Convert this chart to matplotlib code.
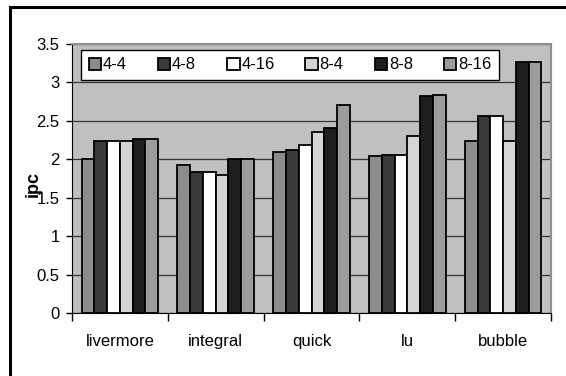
import matplotlib.pyplot as plt
import matplotlib.patches as mpatches
import numpy as np

plt.rcParams['font.family'] = ['Liberation Sans', 'DejaVu Sans']

# Data
categories = ['livermore', 'integral', 'quick', 'lu', 'bubble']
series_names = ['4-4', '4-8', '4-16', '8-4', '8-8', '8-16']
ipc_4_4 = [2.00, 1.93, 2.09, 2.04, 2.24]
ipc_4_8 = [2.24, 1.83, 2.12, 2.06, 2.56]
ipc_4_16 = [2.24, 1.83, 2.19, 2.06, 2.56]
ipc_8_4 = [2.24, 1.80, 2.35, 2.30, 2.24]
ipc_8_8 = [2.27, 2.00, 2.41, 2.82, 3.27]
ipc_8_16 = [2.27, 2.00, 2.71, 2.84, 3.27]
series = [ipc_4_4, ipc_4_8, ipc_4_16, ipc_8_4, ipc_8_8, ipc_8_16]
colors = ['#8c8c8c', '#3a3a3a', '#ffffff', '#d4d4d4', '#1e1e1e', '#9c9c9c']

fig = plt.figure(figsize=(5.66, 3.76), dpi=100)
ax = fig.add_axes([72 / 566, 1 - 313 / 376, 479 / 566, 269 / 376])
ax.set_facecolor('#c0c0c0')

x = np.arange(len(categories))
bw = 0.8 / len(series)
for i, (vals, name, c) in enumerate(zip(series, series_names, colors)):
    ax.bar(x - 0.4 + bw * (i + 0.5), vals, bw, color=c, edgecolor='black',
           linewidth=1.3, label=name, zorder=3)

ax.set_xlim(-0.5, len(categories) - 0.5)
ax.set_ylim(0, 3.5)
ax.set_yticks(np.arange(0, 3.51, 0.5))
ax.set_yticklabels(['0', '0.5', '1', '1.5', '2', '2.5', '3', '3.5'], fontsize=12)
ax.yaxis.grid(True, color='#333333', linewidth=0.9, zorder=1)
ax.set_axisbelow(True)

# category labels between boundary ticks
ax.set_xticks(np.arange(-0.5, len(categories), 1.0))
ax.set_xticklabels([])
ax.set_xticks(x, minor=True)
ax.set_xticklabels(categories, minor=True, fontsize=12)
ax.tick_params(axis='x', which='minor', length=0, pad=15)
ax.tick_params(axis='x', which='major', length=6, width=1, direction='out')
ax.tick_params(axis='y', length=4, width=1, direction='out', pad=5)

for s in ['top', 'right']:
    ax.spines[s].set_color('#909090')
    ax.spines[s].set_linewidth(1.5)
ax.spines['left'].set_color('black')
ax.spines['bottom'].set_color('black')

ax.set_ylabel('ipc', fontsize=13, fontweight='bold')
ax.yaxis.set_label_coords(-0.063, 0.48)

leg = ax.legend(loc='upper left', bbox_to_anchor=(0.019, 0.859, 0.872, 0.119),
                mode='expand', ncol=6, fontsize=12, frameon=True, fancybox=False,
                handlelength=0.75, handleheight=0.75, handletextpad=0.1,
                columnspacing=1.0, borderaxespad=0, borderpad=0.45)
leg.get_frame().set_edgecolor('black')
leg.get_frame().set_linewidth(1)
leg.get_frame().set_facecolor('white')
leg.get_frame().set_alpha(1)

# outer chart border (right and bottom edges fall outside the image)
fig.patches.append(mpatches.Rectangle((10 / 566, -0.1), 1.2, 1.1 - 7 / 376,
                                      transform=fig.transFigure, fill=False,
                                      edgecolor='black', linewidth=2.2))

fig.savefig('out.png', dpi=100)
